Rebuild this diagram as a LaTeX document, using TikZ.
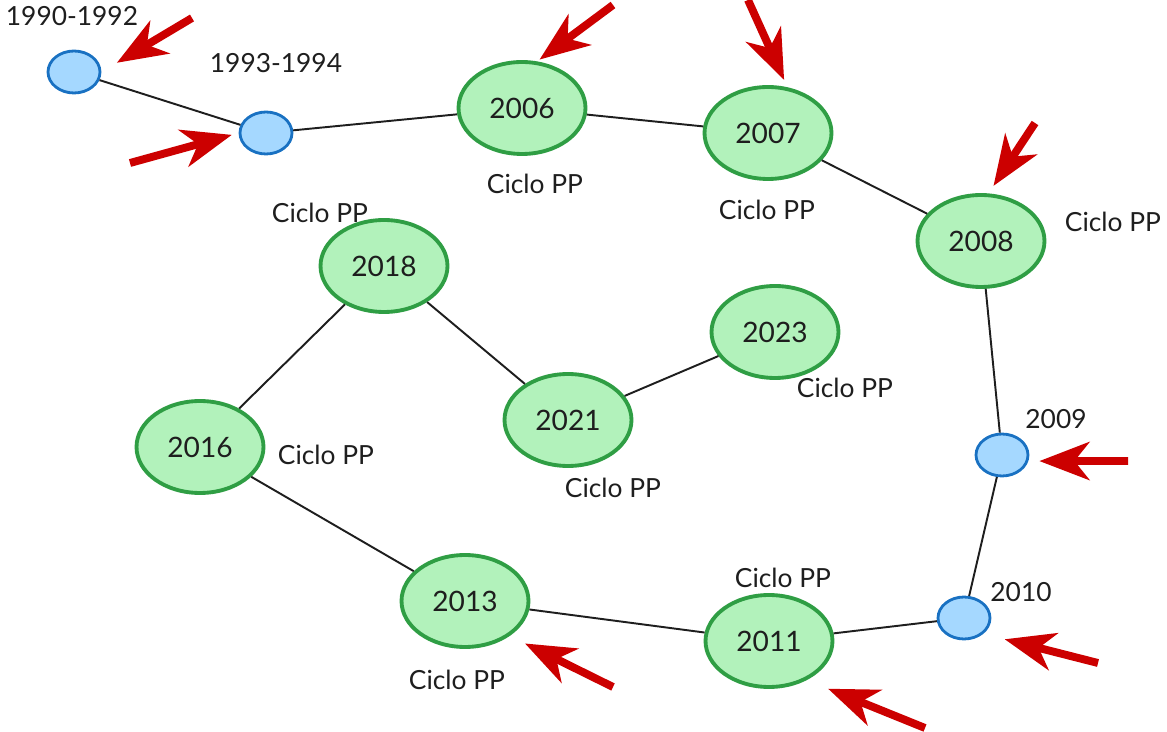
\documentclass[tikz,border=0pt]{standalone}
\usepackage{fontspec}
\setmainfont{Lato}
\usetikzlibrary{shapes.geometric,arrows.meta}
\definecolor{ciclofill}{HTML}{B2F2BB}
\definecolor{ciclodraw}{HTML}{2F9E44}
\definecolor{yearfill}{HTML}{A5D8FF}
\definecolor{yeardraw}{HTML}{1971C2}
\definecolor{markred}{HTML}{CC0000}
\definecolor{ink}{HTML}{1E1E1E}
\tikzset{
  ciclo/.style={ellipse, draw=ciclodraw, fill=ciclofill, line width=2.2pt,
    minimum width=2.54cm, minimum height=1.84cm, inner sep=0pt,
    text=ink, font=\fontsize{16}{18}\selectfont},
  year/.style={ellipse, draw=yeardraw, fill=yearfill, line width=1.6pt,
    minimum width=1.04cm, minimum height=0.84cm, inner sep=0pt},
  note/.style={text=ink, font=\fontsize{15}{17}\selectfont, inner sep=0pt},
  link/.style={draw=ink, line width=1.1pt},
  redarrow/.style={draw=markred, line width=4.5pt,
    -{Stealth[length=1cm, width=0.76cm, inset=0.3cm]}}
}
\begin{document}
\begin{tikzpicture}[x=0.02cm, y=-0.02cm]
\useasboundingbox (0,0) rectangle (1167,732);
% years before the cycles
\node[year] (n1990) at (74,72) {};
\node[year] (n1993) at (266,133) {};
\node[year] (n2009) at (1002,455) {};
\node[year] (n2010) at (964,618) {};
\node[note] (l1990) at (72,16) {1990-1992};
\node[note] (l1993) at (276,63) {1993-1994};
\node[note] (l2009) at (1056,419) {2009};
\node[note] (l2010) at (1021,592) {2010};
% cycles
\node[ciclo] (n2006) at (522,108) {2006};
\node[ciclo] (n2007) at (768,133) {2007};
\node[ciclo] (n2008) at (981,241) {2008};
\node[ciclo] (n2011) at (769,641) {2011};
\node[ciclo] (n2013) at (465,601) {2013};
\node[ciclo] (n2016) at (200,447) {2016};
\node[ciclo] (n2018) at (384,266) {2018};
\node[ciclo] (n2021) at (568,420) {2021};
\node[ciclo] (n2023) at (775,332) {2023};
\node[note] (l2006) at (535,184) {Ciclo PP};
\node[note] (l2007) at (767,210) {Ciclo PP};
\node[note] (l2008) at (1113,222) {Ciclo PP};
\node[note] (l2011) at (783,578) {Ciclo PP};
\node[note] (l2013) at (457,680) {Ciclo PP};
\node[note] (l2016) at (326,455) {Ciclo PP};
\node[note] (l2018) at (320,213) {Ciclo PP};
\node[note] (l2021) at (613,488) {Ciclo PP};
\node[note] (l2023) at (845,388) {Ciclo PP};
\path[link]
    (n1990) edge (n1993)
    (n1993) edge (n2006)
    (n2006) edge (n2007)
    (n2007) edge (n2008)
    (n2008) edge (n2009)
    (n2009) edge (n2010)
    (n2010) edge (n2011)
    (n2011) edge (n2013)
    (n2013) edge (n2016)
    (n2016) edge (n2018)
    (n2018) edge (n2021)
    (n2021) edge (n2023);
% red pointers
\coordinate (a1990) at (192,18);
\coordinate (a1993) at (130,163);
\coordinate (a2006) at (613,5);
\coordinate (a2007) at (748,0);
\coordinate (a2008) at (1035,123);
\coordinate (a2009) at (1128,461);
\coordinate (a2010) at (1098,663);
\coordinate (a2011) at (925,728);
\coordinate (a2013) at (613,687);
\draw[redarrow, shorten >=0.36cm] (a1990) -- (n1990.east);
\draw[redarrow, shorten >=0.14cm] (a1993) -- (n1993.west);
\draw[redarrow, shorten >=0.06cm] (a2006) -- (n2006.72);
\draw[redarrow, shorten >=0.16cm] (a2007) -- (n2007.67);
\draw[redarrow, shorten >=0.18cm] (a2008) -- (n2008.81);
\draw[redarrow, shorten >=0.22cm] (a2009) -- (n2009.-13);
\draw[redarrow, shorten >=0.44cm] (a2010) -- (n2010.south east);
\draw[redarrow, shorten >=0.46cm] (a2011) -- (n2011.-46);
\draw[redarrow, shorten >=0.34cm] (a2013) -- (n2013.-38);
\end{tikzpicture}
\end{document}
